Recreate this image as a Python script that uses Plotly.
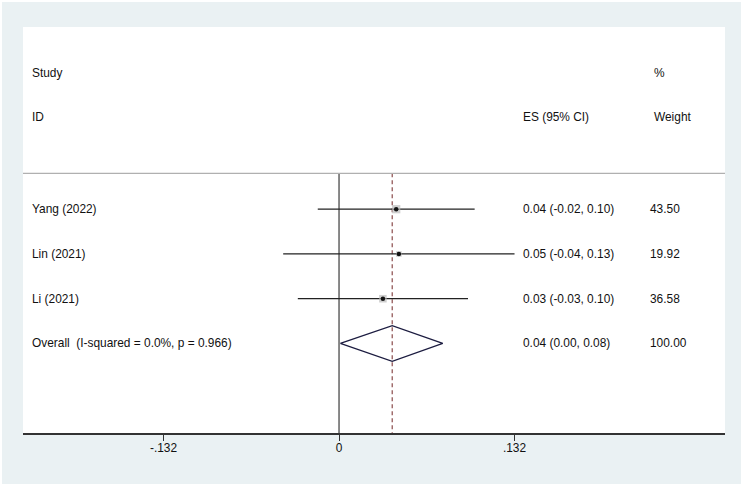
import plotly.graph_objects as go

# ---- data ----
studies = ["Yang (2022)", "Lin (2021)", "Li (2021)"]
es = [0.043, 0.045, 0.033]
lo = [-0.016, -0.042, -0.031]
hi = [0.102, 0.132, 0.097]
weights = [43.50, 19.92, 36.58]
es_labels = ["0.04 (-0.02, 0.10)", "0.05 (-0.04, 0.13)", "0.03 (-0.03, 0.10)"]
weight_labels = ["43.50", "19.92", "36.58"]

overall_label = "Overall  (I-squared = 0.0%, p = 0.966)"
overall_es = 0.040
overall_lo = 0.001
overall_hi = 0.078
overall_es_label = "0.04 (0.00, 0.08)"
overall_weight_label = "100.00"

tick_vals = [-0.132, 0, 0.132]
tick_text = ["-.132", "0", ".132"]

# ---- layout constants ----
X_RANGE = [-0.2377, 0.2903]
Y_RANGE = [6.0, -3.07]
rows = [1, 2, 3]
overall_row = 4
sep_row = 0.2
FONT = "Liberation Sans, Arial, sans-serif"
TXT = "#111111"
FS = 11.9

fig = go.Figure()

# outer background (light bluish gray with thin white rim)
fig.add_shape(type="rect", xref="paper", yref="paper",
              x0=(2 - 23) / 702, x1=(741 - 23) / 702,
              y0=(487 - 484 - 54) / 406, y1=(487 - 2 - 54) / 406,
              fillcolor="#eaf1f3", line_width=0, layer="below")
fig.add_shape(type="rect", xref="paper", yref="paper", x0=0, x1=1, y0=0, y1=1,
              fillcolor="white", line_width=0, layer="below")

# separator line
fig.add_shape(type="line", xref="paper", yref="y", x0=0, x1=1, y0=sep_row, y1=sep_row,
              line=dict(color="#b0b0b0", width=1.2))

# null line at 0
fig.add_trace(go.Scatter(x=[0, 0], y=[sep_row, Y_RANGE[0]], mode="lines",
                         line=dict(color="#4a4a4a", width=1.3), hoverinfo="skip"))
# overall effect dashed line
fig.add_trace(go.Scatter(x=[overall_es, overall_es], y=[sep_row, Y_RANGE[0]], mode="lines",
                         line=dict(color="#8a4a4a", width=1.2, dash="4px,3px"), hoverinfo="skip"))

# CI lines
for r, l, h in zip(rows, lo, hi):
    fig.add_trace(go.Scatter(x=[l, h], y=[r, r], mode="lines",
                             line=dict(color="#222222", width=1.3), hoverinfo="skip"))

# weight boxes
fig.add_trace(go.Scatter(x=es, y=rows, mode="markers",
                         marker=dict(symbol="square", size=[1.25 * w ** 0.5 for w in weights],
                                     color="#bababa", line=dict(width=0)),
                         hoverinfo="skip"))
# point estimates
fig.add_trace(go.Scatter(x=es, y=rows, mode="markers",
                         marker=dict(symbol="circle", size=4.5, color="#111111"),
                         hoverinfo="skip"))

# overall diamond
fig.add_trace(go.Scatter(x=[overall_lo, overall_es, overall_hi, overall_es, overall_lo],
                         y=[overall_row, overall_row - 0.4, overall_row, overall_row + 0.4, overall_row],
                         mode="lines", line=dict(color="#1c1c40", width=1.3), hoverinfo="skip"))

# text columns
X_STUDY = -0.2326
X_ES = 0.1367
X_W = 0.2322
X_WH = 0.2352


def txt(x, y, s):
    fig.add_annotation(x=x, y=y, xref="x", yref="y", text=s, showarrow=False,
                       xanchor="left", yanchor="middle",
                       font=dict(family=FONT, size=FS, color=TXT))


txt(X_STUDY, -2.04, "Study")
txt(X_STUDY, -1.05, "ID")
txt(X_ES, -1.05, "ES (95% CI)")
txt(X_WH, -2.04, "%")
txt(X_WH, -1.05, "Weight")

for r, s, e, w in zip(rows, studies, es_labels, weight_labels):
    txt(X_STUDY, r, s)
    txt(X_ES, r, e)
    txt(X_W, r, w)
txt(X_STUDY, overall_row, overall_label)
txt(X_ES, overall_row, overall_es_label)
txt(X_W, overall_row, overall_weight_label)

fig.update_layout(
    width=744, height=487,
    margin=dict(l=23, r=19, t=27, b=54),
    paper_bgcolor="white", plot_bgcolor="rgba(0,0,0,0)",
    showlegend=False,
    xaxis=dict(range=X_RANGE, showgrid=False, zeroline=False,
               tickvals=tick_vals, ticktext=tick_text,
               ticks="outside", ticklen=6, tickwidth=1.2, tickcolor="#333333",
               ticklabelstandoff=-3,
               showline=True, linecolor="#333333", linewidth=1.6,
               tickfont=dict(family=FONT, size=FS, color=TXT), fixedrange=True),
    yaxis=dict(range=Y_RANGE, visible=False, fixedrange=True),
)

fig.write_html("out.html", config={"displayModeBar": False},
               post_script="document.body.style.margin='0';")
